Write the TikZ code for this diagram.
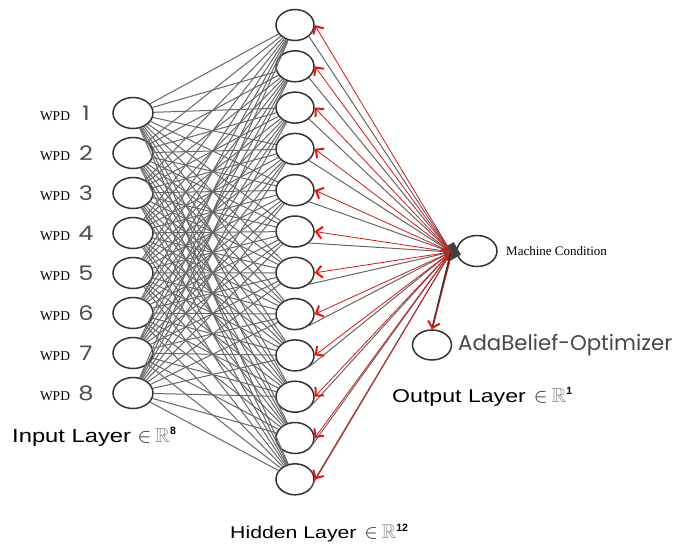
\documentclass[tikz,border=0pt]{standalone}
\usepackage{fontspec}
\usepackage{amssymb}
\usepackage{graphicx}
\setmainfont{Liberation Serif}
\newfontfamily\lsans{Liberation Sans}
\newfontfamily\pop{Poppins}
\usetikzlibrary{shapes.geometric,arrows.meta}
\definecolor{wiregray}{HTML}{666666}
\definecolor{backred}{HTML}{D01818}
\definecolor{tipred}{HTML}{F01010}
\definecolor{nodeedge}{HTML}{333333}
% #1 text, #2 font size, #3 superscript, #4 math scale (from 10pt), #5 gap before the symbol
\newcommand{\laylbl}[5]{\fontsize{#2}{#2}\selectfont\lsans\scalebox{1.25}[1]{#1}\hspace{#5}\scalebox{#4}{\fontsize{10}{12}\selectfont\color{black!85}$\in$}\hspace{4pt}\scalebox{#4}{\fontsize{10}{12}\selectfont\color{black!45}$\mathbb{R}$}\raisebox{0.42em}{\fontsize{10.5}{11}\lsans\bfseries #3}}
\begin{document}
\begin{tikzpicture}[x=1pt,y=-1pt,
  neuron/.style={ellipse, draw=nodeedge, line width=1.5pt, minimum width=40pt, minimum height=31pt, inner sep=0pt, fill=white},
  wire/.style={draw=wiregray, line width=1pt},
  back/.style={draw=backred, line width=0.8pt, -{Straight Barb[length=6pt,width=12pt,line width=2pt,color=tipred]}},
  wpd/.style={font=\fontsize{13.5}{15}\selectfont, inner sep=0pt},
  num/.style={font=\fontsize{20}{22}\pop, text=black!70, inner sep=0pt},
  layerlbl/.style={inner sep=0pt, anchor=west},
  hubshape/.style={rectangle, fill=black!75, minimum size=14.5pt, inner sep=0pt, rotate=30}
]
\useasboundingbox (0,0) rectangle (677,547);
% input layer
\foreach \i in {1,...,8} {
  \node[neuron] (i\i) at (133, {113+40*(\i-1)}) {};
  \node[wpd] (w\i) at (55, {116+40*(\i-1)}) {WPD};
  \node[num] (n\i) at (86, {113+40*(\i-1)}) {\scalebox{1.2}[1]{\i}};
}
% hidden layer
\foreach \h in {1,...,12} {
  \node[neuron, minimum width=38pt] (h\h) at (295, {25+41.3*(\h-1)}) {};
}
% output
\node[neuron] (out) at (477,251) {};
\node[hubshape] (hub) at (451,252) {};
\node[neuron, minimum width=39pt, minimum height=30pt] (ada) at (432,345) {};
% connections input -> hidden
\foreach \i in {1,...,8} {
  \foreach \h in {1,...,12} {
    \draw[wire] (i\i) -- (h\h);
  }
}
% hidden <-> output
\foreach \h in {1,...,12} {
  \draw[wire] (h\h.south east) -- (hub.center);
  \draw[back] (hub.center) -- (h\h.east);
}
\draw[draw=nodeedge, line width=1.8pt] (hub.center) -- (ada.north);
\draw[back] ([xshift=1.4pt]hub.center) -- (ada.north);
% labels
\node[inner sep=0pt, anchor=west, font=\fontsize{13}{15}\selectfont] (mc) at (506,251) {Machine Condition};
\node[inner sep=0pt, anchor=west, font=\fontsize{21.3}{24}\pop, text=black!72] (adal) at (458,345) {AdaBelief-Optimizer};
\node[layerlbl] (inl) at (12,437) {\laylbl{Input Layer}{19}{8}{2.05}{6.5pt}};
\node[layerlbl] (outl) at (392,397) {\laylbl{Output Layer}{18.5}{1}{2.05}{8pt}};
\node[layerlbl] (hidl) at (230,533) {\laylbl{Hidden Layer}{17}{12}{2.0}{8pt}};
\end{tikzpicture}
\end{document}
